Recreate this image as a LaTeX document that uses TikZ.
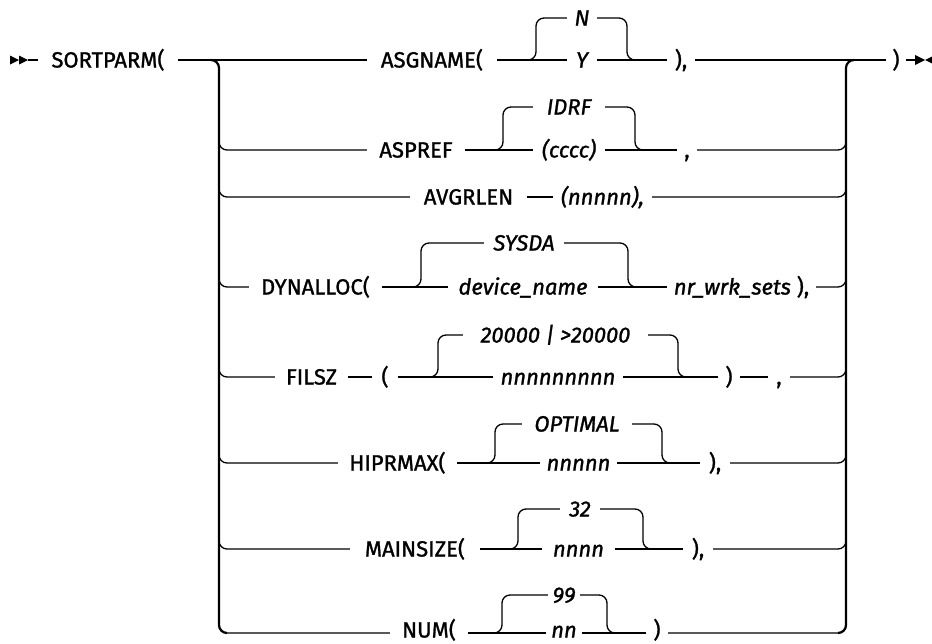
\documentclass[tikz,border=0pt]{standalone}
\usepackage{fontspec}
\setmainfont{Fira Sans}[FakeBold=1.2]
\begin{document}
\begin{tikzpicture}[x=1pt,y=-1pt,
  ln/.style={line width=1.3pt},
  rl/.style={line width=2.2pt},
  kw/.style={font=\fontsize{22}{22}\selectfont, inner xsep=0pt, inner ysep=0pt, text height=15pt, text depth=0pt, anchor=center},
  vr/.style={kw, font=\fontsize{22}{22}\selectfont\itshape},
  rc/.style={rounded corners=8pt},
  tri/.style={fill=black}
]
\useasboundingbox (0,0) rectangle (932,643);
% start / end symbols
\fill[tri] (10,55.5) -- (19,60) -- (10,64.5) -- cycle;
\fill[tri] (19,55.5) -- (28,60) -- (19,64.5) -- cycle;
\coordinate (start) at (28,60);
\fill[tri] (915,55) -- (925,60) -- (915,65) -- cycle;
\fill[tri] (935,55) -- (925,60) -- (935,65) -- cycle;
\coordinate (stop) at (915,60);

\node[kw, minimum width=140] (sort) at (108,60) {SORTPARM(};
\node[kw, minimum width=20] (close) at (896,60) {)};
\draw[ln] (start) -- (sort.west);
\draw[ln] (close.east) -- (stop);

% rails
\draw[rl,rc] (211,60) -- (219,60) -- (219,633) -- (227,633);
\draw[rl,rc] (838,633) -- (846,633) -- (846,60) -- (854,60);

% Row 1
\node[kw, minimum width=130] (asg) at (432,60) {ASGNAME(};
\node[vr, minimum width=30] (n1a) at (582,18) {N};
\node[vr, minimum width=30] (n1b) at (582,60) {Y};
\node[kw, minimum width=28] (c1) at (681,60) {),};
\coordinate (b1) at (528,60);
\coordinate (j1) at (635,60);
\draw[ln] (sort.east) -- (asg.west);
\draw[ln] (asg.east) -- (n1b.west);
\draw[ln,rc] (b1) -- ++(8,0) |- (n1a.west);
\draw[ln,rc] (n1a.east) -| ([xshift=-8pt]j1) -- (j1);
\draw[ln] (n1b.east) -- (c1.west);
\draw[ln] (c1.east) -- (close.west);

% Row 2
\node[kw, minimum width=98] (asp) at (416,150) {ASPREF};
\node[vr, minimum width=72] (idrf) at (569,107) {IDRF};
\node[vr, minimum width=72] (cccc) at (569,150) {(cccc)};
\node[kw, minimum width=20] (c2) at (687,150) {,};
\coordinate (b2) at (495,150);
\coordinate (j2) at (643,150);
\draw[ln,rc] (219,130) -- (219,150) -- (asp.west);
\draw[ln] (asp.east) -- (cccc.west);
\draw[ln,rc] (b2) -- ++(8,0) |- (idrf.west);
\draw[ln,rc] (idrf.east) -| ([xshift=-8pt]j2) -- (j2);
\draw[ln] (cccc.east) -- (c2.west);
\draw[ln,rc] (c2.east) -- (846,150) -- (846,130);

% Row 3
\node[kw, minimum width=117] (avg) at (468.5,197) {AVGRLEN};
\node[vr, minimum width=99] (avgv) at (602.5,197) {(nnnnn),};
\draw[ln,rc] (219,177) -- (219,197) -- (avg.west);
\draw[ln] (avg.east) -- (avgv.west);
\draw[ln,rc] (avgv.east) -- (846,197) -- (846,177);

% Row 4
\node[kw, minimum width=133] (dyn) at (315.5,287) {DYNALLOC(};
\node[vr, minimum width=80] (sysda) at (524,243) {SYSDA};
\node[vr, minimum width=150] (dev) at (523,287) {device\_name};
\node[kw, minimum width=149] (nrw) at (741.5,287) {\itshape nr\_wrk\_sets\upshape{} ),};
\coordinate (b4) at (413,287);
\coordinate (j4) at (636,287);
\draw[ln,rc] (219,267) -- (219,287) -- (dyn.west);
\draw[ln] (dyn.east) -- (dev.west);
\draw[ln,rc] (b4) -- ++(8,0) |- (sysda.west);
\draw[ln,rc] (sysda.east) -| ([xshift=-8pt]j4) -- (j4);
\draw[ln] (dev.east) -- (nrw.west);
\draw[ln,rc] (nrw.east) -- (846,287) -- (846,267);

% Row 5
\node[kw, minimum width=73] (fil) at (311.5,377) {FILSZ};
\node[kw, minimum width=26] (lp5) at (385,377) {(};
\node[vr, minimum width=185] (big) at (555.5,335) {20000 | >20000};
\node[vr, minimum width=130] (n9) at (558,377) {nnnnnnnnn};
\node[kw, minimum width=22] (rp5) at (729,377) {)};
\node[kw, minimum width=22] (c5) at (779,377) {,};
\coordinate (b5) at (430,377);
\coordinate (j5) at (686,377);
\draw[ln,rc] (219,357) -- (219,377) -- (fil.west);
\draw[ln] (fil.east) -- (lp5.west);
\draw[ln] (lp5.east) -- (n9.west);
\draw[ln,rc] (b5) -- ++(8,0) |- (big.west);
\draw[ln,rc] (big.east) -| ([xshift=-8pt]j5) -- (j5);
\draw[ln] (n9.east) -- (rp5.west);
\draw[ln] (rp5.east) -- (c5.west);
\draw[ln,rc] (c5.east) -- (846,377) -- (846,357);

% Row 6
\node[kw, minimum width=119] (hip) at (397.5,463) {HIPRMAX(};
\node[vr, minimum width=110] (opt) at (577,424) {OPTIMAL};
\node[vr, minimum width=77] (n5) at (578.5,463) {nnnnn};
\node[kw, minimum width=30] (c6) at (715,463) {),};
\coordinate (b6) at (487,463);
\coordinate (j6) at (670,463);
\draw[ln,rc] (219,443) -- (219,463) -- (hip.west);
\draw[ln] (hip.east) -- (n5.west);
\draw[ln,rc] (b6) -- ++(8,0) |- (opt.west);
\draw[ln,rc] (opt.east) -| ([xshift=-8pt]j6) -- (j6);
\draw[ln] (n5.east) -- (c6.west);
\draw[ln,rc] (c6.east) -- (846,463) -- (846,443);

% Row 7
\node[kw, minimum width=130] (msz) at (415,549) {MAINSIZE(};
\node[vr, minimum width=40] (t32) at (580,509) {32};
\node[vr, minimum width=73] (n4) at (578.5,549) {nnnn};
\node[kw, minimum width=30] (c7) at (698,549) {),};
\coordinate (b7) at (510,549);
\coordinate (j7) at (651,549);
\draw[ln,rc] (219,529) -- (219,549) -- (msz.west);
\draw[ln] (msz.east) -- (n4.west);
\draw[ln,rc] (b7) -- ++(8,0) |- (t32.west);
\draw[ln,rc] (t32.east) -| ([xshift=-8pt]j7) -- (j7);
\draw[ln] (n4.east) -- (c7.west);
\draw[ln,rc] (c7.east) -- (846,549) -- (846,529);

% Row 8
\node[kw, minimum width=78] (num) at (429,630) {NUM(};
\node[vr, minimum width=32] (t99) at (564,595) {99};
\node[vr, minimum width=36] (nn) at (564,630) {nn};
\node[kw, minimum width=22] (rp8) at (657,630) {)};
\coordinate (b8) at (494,633);
\coordinate (j8) at (615,633);
\draw[ln,rc] (219,613) -- (219,633) -- (num.west|-b8);
\draw[ln] (num.east|-b8) -- (nn.west|-b8);
\draw[ln,rc] (b8) -- ++(8,0) |- (t99.west);
\draw[ln,rc] (t99.east) -| ([xshift=-8pt]j8) -- (j8);
\draw[ln] (nn.east|-b8) -- (rp8.west|-b8);
\draw[ln,rc] (rp8.east|-b8) -- (846,633) -- (846,613);
\end{tikzpicture}
\end{document}
